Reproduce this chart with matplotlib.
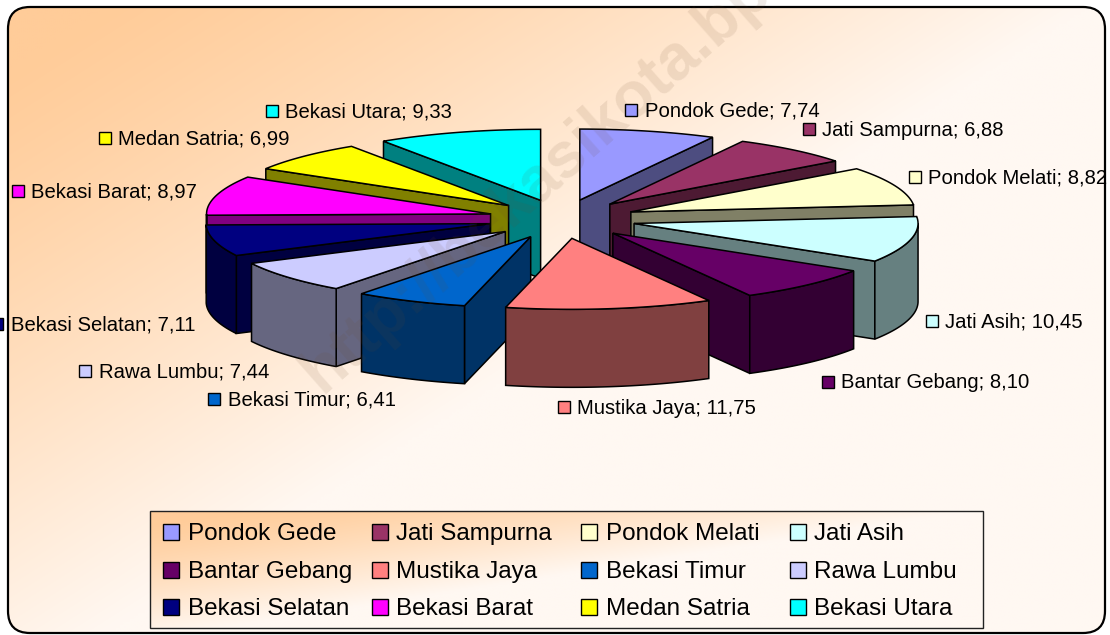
#!/usr/bin/env python

import matplotlib
matplotlib.use('Agg')
import matplotlib.pyplot as plt
import numpy as np

from matplotlib.colors import to_rgb
from matplotlib.patches import FancyBboxPatch, Polygon, Rectangle

WIDTH, HEIGHT = 1110, 635

# Chart data
districts = ['Pondok Gede', 'Jati Sampurna', 'Pondok Melati', 'Jati Asih',
             'Bantar Gebang', 'Mustika Jaya', 'Bekasi Timur', 'Rawa Lumbu',
             'Bekasi Selatan', 'Bekasi Barat', 'Medan Satria', 'Bekasi Utara']
shares = [7.74, 6.88, 8.82, 10.45, 8.10, 11.75, 6.41, 7.44, 7.11, 8.97, 6.99, 9.33]
colors = ['#9999FF', '#993366', '#FFFFCC', '#CCFFFF', '#660066', '#FF8080',
          '#0066CC', '#CCCCFF', '#000080', '#FF00FF', '#FFFF00', '#00FFFF']

# Layout of the data labels: marker left edge, text left edge, centre y
label_pos = [(625, 645, 110), (803, 822, 129), (909, 928, 177), (926, 945, 321),
             (822, 841, 382), (558, 577, 407), (208, 228, 399), (79, 99, 371),
             (-9, 11, 324), (12, 31, 191), (99, 118, 138), (266, 285, 111)]

# Projection of the pie on the picture
CX, CY = 562, 219
RX, RY = 284, 71
EXPLODE_X, EXPLODE_Y = 74, 19.5
DEPTH = 78
EDGE = 1.1


def project(theta, cx, cy):
    # theta in degrees, clockwise from 12 o'clock
    t = np.radians(theta)
    return cx + RX * np.sin(t), cy - RY * np.cos(t)


def arc(start, end, cx, cy):
    thetas = np.linspace(start, end, max(int(end - start) * 2, 2))
    return np.column_stack(project(thetas, cx, cy))


def gradient(ax, x0, y0, x1, y1, clip, zorder):
    yy, xx = np.mgrid[0:1:200j, 0:1:300j]
    t = np.clip(xx * 1.12 + yy * 1.0 - 0.1, 0, 1) ** 1.2
    a = np.array(to_rgb('#FFCC99'))
    b = np.array(to_rgb('#FFF8F2'))
    img = a + (b - a) * t[..., None]
    im = ax.imshow(img, extent=(x0, x1, y1, y0), aspect='auto', zorder=zorder,
                   interpolation='bilinear')
    im.set_clip_path(clip)


def draw_slice(ax, start, end, color, zorder):
    mid = np.radians((start + end) / 2)
    cx = CX + EXPLODE_X * np.sin(mid)
    cy = CY - EXPLODE_Y * np.cos(mid)
    side = tuple(c * 0.5 for c in to_rgb(color))
    apex = np.array([cx, cy])
    down = np.array([0, DEPTH])
    style = dict(facecolor=side, edgecolor='black', linewidth=EDGE,
                 joinstyle='miter', zorder=zorder)

    # Radial walls, only the ones facing the viewer
    for theta, visible in ((end, np.sin(np.radians(end)) > 0),
                           (start, np.sin(np.radians(start)) < 0)):
        if visible:
            outer = np.array(project(theta, cx, cy))
            ax.add_patch(Polygon([apex, outer, outer + down, apex + down],
                                 closed=True, **style))

    # Outer wall
    lo, hi = max(start, 90), min(end, 270)
    if lo < hi:
        rim = arc(lo, hi, cx, cy)
        ax.add_patch(Polygon(np.vstack([rim, (rim + down)[::-1]]),
                             closed=True, **style))

    # Top face
    top = np.vstack([apex, arc(start, end, cx, cy)])
    ax.add_patch(Polygon(top, closed=True, facecolor=color, edgecolor='black',
                         linewidth=EDGE, joinstyle='miter', zorder=zorder + 0.5))


def main():
    plt.rcParams['font.family'] = ['Liberation Sans', 'DejaVu Sans']
    fig = plt.figure(figsize=(WIDTH / 100, HEIGHT / 100), dpi=100)
    ax = fig.add_axes([0, 0, 1, 1])

    # Rounded chart area with the peach gradient
    frame = FancyBboxPatch((31, 30), 1051, 580,
                           boxstyle='round,pad=23,rounding_size=22',
                           facecolor='none', edgecolor='black', linewidth=1.6,
                           zorder=3)
    ax.add_patch(frame)
    gradient(ax, 8, 7, 1105, 633, frame, 1)

    # Slices, back to front
    edges = np.cumsum([0] + shares) / sum(shares) * 360
    spans = list(zip(edges[:-1], edges[1:]))
    order = sorted(range(len(shares)),
                   key=lambda i: -np.cos(np.radians(sum(spans[i]) / 2)))
    for rank, i in enumerate(order):
        draw_slice(ax, spans[i][0], spans[i][1], colors[i], 10 + rank)

    # Faint address across the picture
    ax.text(322, 394, 'http://bekasikota.bps.go.id', rotation=41.5, fontsize=46,
            fontweight='bold', color='#6B4A2B', alpha=0.11, ha='left',
            va='baseline', rotation_mode='anchor', zorder=40)

    # Data labels
    for name, share, color, (mx, tx, y) in zip(districts, shares, colors, label_pos):
        ax.add_patch(Rectangle((mx, y - 6), 12, 12, facecolor=color,
                               edgecolor='black', linewidth=1.0, zorder=50))
        text = '%s; %s' % (name, ('%.2f' % share).replace('.', ','))
        ax.text(tx, y + 1, text, fontsize=14.6, color='black', ha='left',
                va='center', zorder=50)

    # Legend box
    box = Rectangle((150, 511), 833, 117, facecolor='none', edgecolor='#222222',
                    linewidth=1.0, zorder=52)
    ax.add_patch(box)
    gradient(ax, 150, 511, 983, 628, box, 51)
    col_x = [163, 372, 581, 790]
    row_y = [532, 570, 607]
    for i, (name, color) in enumerate(zip(districts, colors)):
        x = col_x[i % 4]
        y = row_y[i // 4]
        ax.add_patch(Rectangle((x, y - 8), 16, 16, facecolor=color,
                               edgecolor='black', linewidth=1.0, zorder=53))
        ax.text(x + 24.5, y + 2, name, fontsize=17.5, color='black', ha='left',
                va='center', zorder=53)

    ax.set_xlim(0, WIDTH)
    ax.set_ylim(HEIGHT, 0)
    ax.axis('off')
    fig.savefig('out.png', dpi=100, facecolor='white')


if __name__ == '__main__':
    main()
